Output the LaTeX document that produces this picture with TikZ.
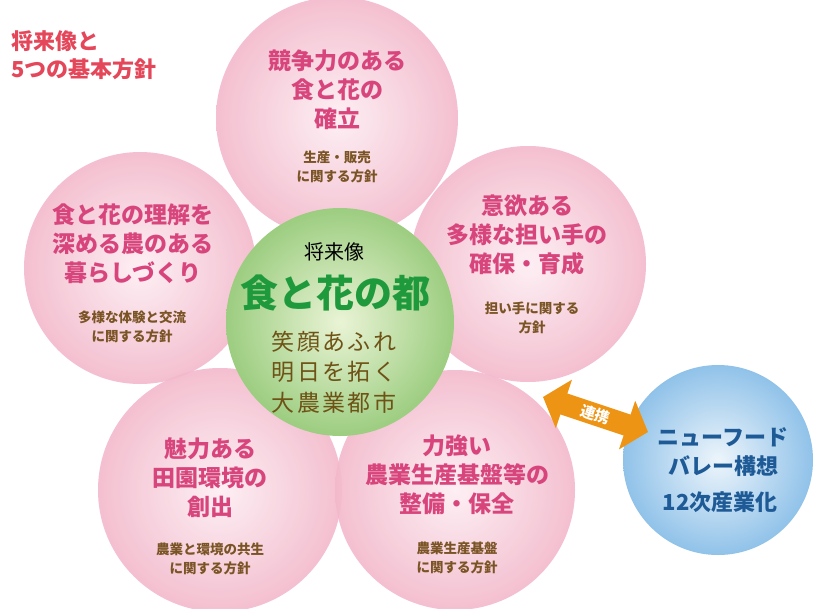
\documentclass[tikz,border=0pt]{standalone}
\usepackage{fontspec}
\setmainfont{Noto Sans CJK JP}
\newfontfamily\spacedjp[LetterSpace=10]{Noto Sans CJK JP}
\usetikzlibrary{arrows.meta}
\definecolor{titlered}{HTML}{E4465A}
\definecolor{headpink}{HTML}{D8457C}
\definecolor{subbrown}{HTML}{7A5424}
\definecolor{midbrown}{HTML}{6E5216}
\definecolor{toGreen}{HTML}{1E9A3C}
\definecolor{bluetext}{HTML}{1D5A96}
\definecolor{linkorange}{HTML}{EE9414}
\definecolor{petalin}{HTML}{FDEEF3}
\definecolor{petalout}{HTML}{F3B9CB}
\definecolor{greenin}{HTML}{EAF4D6}
\definecolor{greenout}{HTML}{9CCD80}
\definecolor{bluein}{HTML}{EDF5FB}
\definecolor{blueout}{HTML}{90C2E9}
\tikzset{
  petal/.style={circle, inner sep=0pt, shading=radial, inner color=petalin, outer color=petalout, fill opacity=0.9},
  hub/.style={circle, inner sep=0pt, shading=radial, inner color=greenin, outer color=greenout},
  bluecirc/.style={circle, inner sep=0pt, shading=radial, inner color=bluein, outer color=blueout},
  head/.style={align=center, text=headpink, font=\fontsize{23}{29}\selectfont\bfseries},
  subtext/.style={align=center, text=subbrown, font=\fontsize{13.5}{19.5}\selectfont\bfseries},
  linkarrow/.style={draw=linkorange, line width=22pt, {Triangle[length=22pt,width=50pt,fill=linkorange]}-{Triangle[length=22pt,width=50pt,fill=linkorange]}},
}
\begin{document}
\begin{tikzpicture}[x=1pt,y=-1pt]
\useasboundingbox (0,0) rectangle (819,608);
\fill[white] (0,0) rectangle (819,608);

% petals
\node[petal, minimum size=242pt] (ptop) at (337,118) {};
\node[petal, minimum size=232pt] (pleft) at (140,268) {};
\node[petal, minimum size=236pt] (pright) at (528,264) {};
\node[petal, minimum size=244pt] (pbl) at (220,490) {};
\node[petal, minimum size=240pt] (pbr) at (455,490) {};
% hub
\node[hub, minimum size=228pt] (hub) at (340,322) {};
% blue
\node[bluecirc, minimum size=190pt] (nfv) at (718,460) {};

% title
\node[anchor=north west, align=left, text=titlered, font=\fontsize{22}{28}\selectfont\bfseries] (title) at (8,27) {将来像と\\5つの基本方針};

% petal texts
\node[head] (htop) at (337,90) {競争力のある\\食と花の\\確立};
\node[subtext] (stop) at (337,167) {生産・販売\\に関する方針};

\node[head] (hleft) at (133,244) {食と花の理解を\\深める農のある\\暮らしづくり};
\node[subtext] (sleft) at (132,327) {多様な体験と交流\\に関する方針};

\node[head] (hright) at (527,235) {意欲ある\\多様な担い手の\\確保・育成};
\node[subtext] (sright) at (532,318) {担い手に関する\\方針};

\node[head] (hbl) at (210,478) {魅力ある\\田園環境の\\創出};
\node[subtext] (sbl) at (210,559) {農業と環境の共生\\に関する方針};

\node[head] (hbr) at (457,475) {力強い\\農業生産基盤等の\\整備・保全};
\node[subtext] (sbr) at (457,558) {農業生産基盤\\に関する方針};

% hub texts
\node[font=\fontsize{20}{24}\selectfont, text=black] (fut) at (334,252) {将来像};
\node[font=\fontsize{38}{44}\selectfont\bfseries, text=toGreen] (miyako) at (335,293) {食と花の都};
\node[align=center, text=midbrown, font=\fontsize{23}{30.5}\selectfont\spacedjp] (slogan) at (334,372) {笑顔あふれ\\明日を拓く\\大農業都市};

% blue texts
\node[align=center, text=bluetext, font=\fontsize{22}{29}\selectfont\bfseries] (nfvt) at (723,452) {ニューフード\\バレー構想};
\node[text=bluetext, font=\fontsize{22}{26}\selectfont\bfseries] (twelve) at (720,502) {12次産業化};

% link arrow
\coordinate (la) at (543,397);
\coordinate (lb) at (648,432);
\draw[linkarrow] (la) -- (lb) node[midway, sloped, inner sep=0pt, text=white, font=\fontsize{15}{18}\selectfont\bfseries] (lk) {連携};
\end{tikzpicture}
\end{document}
